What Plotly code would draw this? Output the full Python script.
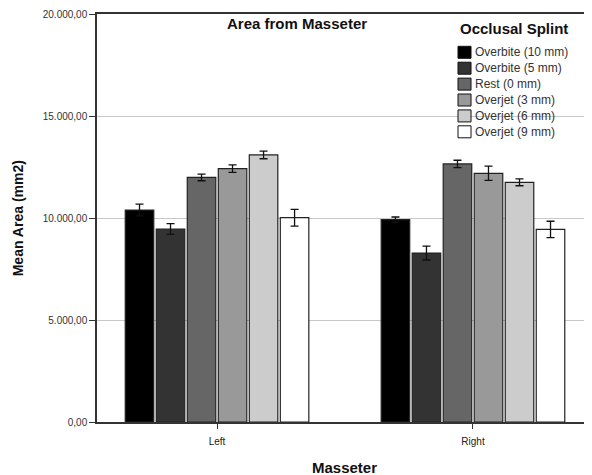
import plotly.graph_objects as go

categories = ["Left", "Right"]
series_names = ["Overbite (10 mm)", "Overbite (5 mm)", "Rest (0 mm)",
                "Overjet (3 mm)", "Overjet (6 mm)", "Overjet (9 mm)"]
series_colors = ["#000000", "#333333", "#666666", "#999999", "#cccccc", "#ffffff"]
# mean area values [Left, Right]
overbite10 = [10390, 9920]
overbite5 = [9460, 8280]
rest0 = [11990, 12650]
overjet3 = [12420, 12190]
overjet6 = [13090, 11750]
overjet9 = [10015, 9440]
# error bar half-widths [Left, Right]
err_overbite10 = [290, 130]
err_overbite5 = [260, 340]
err_rest0 = [165, 180]
err_overjet3 = [180, 350]
err_overjet6 = [186, 170]
err_overjet9 = [410, 400]

values = [overbite10, overbite5, rest0, overjet3, overjet6, overjet9]
errors = [err_overbite10, err_overbite5, err_rest0, err_overjet3, err_overjet6, err_overjet9]
y_ticks = [0, 5000, 10000, 15000, 20000]

FONT = "Liberation Sans, Arial, sans-serif"

fig = go.Figure()
for name, col, v, e in zip(series_names, series_colors, values, errors):
    fig.add_trace(go.Bar(
        name=name, x=categories, y=v, showlegend=False,
        marker=dict(color=col, line=dict(color="#222222", width=1.2)),
        error_y=dict(type="data", array=e, visible=True, color="#111111",
                     thickness=1.3, width=4),
    ))

# manual legend (paper coordinates)
shapes = []
annotations = []
leg_x0, leg_x1, leg_tx = 0.7293, 0.7556, 0.7606
row0, row_step = 0.9061, 0.03897
sq_half = 6 / 408
for i, (name, col) in enumerate(zip(series_names, series_colors)):
    yc = row0 - i * row_step
    shapes.append(dict(type="rect", xref="paper", yref="paper",
                       x0=leg_x0, x1=leg_x1, y0=yc - sq_half, y1=yc + sq_half,
                       fillcolor=col, line=dict(color="#111111", width=1)))
    annotations.append(dict(text=name, xref="paper", yref="paper", x=leg_tx, y=yc,
                            xanchor="left", yanchor="middle", showarrow=False,
                            font=dict(size=12, color="#333333", family=FONT)))
annotations.append(dict(text="<b>Occlusal Splint</b>", xref="paper", yref="paper",
                        x=0.7300, y=0.965, xanchor="left", yanchor="middle",
                        showarrow=False, font=dict(size=15, color="#111111", family=FONT)))
annotations.append(dict(text="<b>Area from Masseter</b>", xref="paper", yref="paper",
                        x=0.404, y=0.977, xanchor="center", yanchor="middle",
                        showarrow=False, font=dict(size=15, color="#111111", family=FONT)))
annotations.append(dict(text="<b>Mean Area (mm2)</b>", xref="paper", yref="paper",
                        x=-0.159, y=0.5, xanchor="center", yanchor="middle", textangle=-90,
                        showarrow=False, font=dict(size=14, color="#111111", family=FONT)))
annotations.append(dict(text="<b>Masseter</b>", xref="paper", yref="paper",
                        x=0.501, y=-0.112, xanchor="center", yanchor="middle",
                        showarrow=False, font=dict(size=15, color="#111111", family=FONT)))

fig.update_layout(
    width=584, height=467,
    margin=dict(l=89, r=0, t=6, b=53),
    paper_bgcolor="white", plot_bgcolor="white",
    separators=",.",
    barmode="group", bargap=0.273, bargroupgap=0.08,
    font=dict(family=FONT, color="#222222"),
    showlegend=False,
    shapes=shapes,
    annotations=annotations,
)

fig.update_xaxes(
    range=[-0.469, 1.465],
    showline=True, linecolor="#333333", linewidth=1.5, mirror=True,
    ticks="outside", ticklen=5, tickcolor="#333333",
    ticklabelstandoff=4,
    tickfont=dict(size=10, color="#222222"),
    automargin=False,
)
fig.update_yaxes(
    range=[0, 20000], tickvals=y_ticks, tickformat=",.2f",
    showline=True, linecolor="#333333", linewidth=1.5,
    showgrid=True, gridcolor="#c8c8c8", gridwidth=1,
    ticks="outside", ticklen=6, tickcolor="#333333",
    tickfont=dict(size=10, color="#333333"),
    zeroline=False,
    automargin=False,
)

fig.write_html("out.html")
